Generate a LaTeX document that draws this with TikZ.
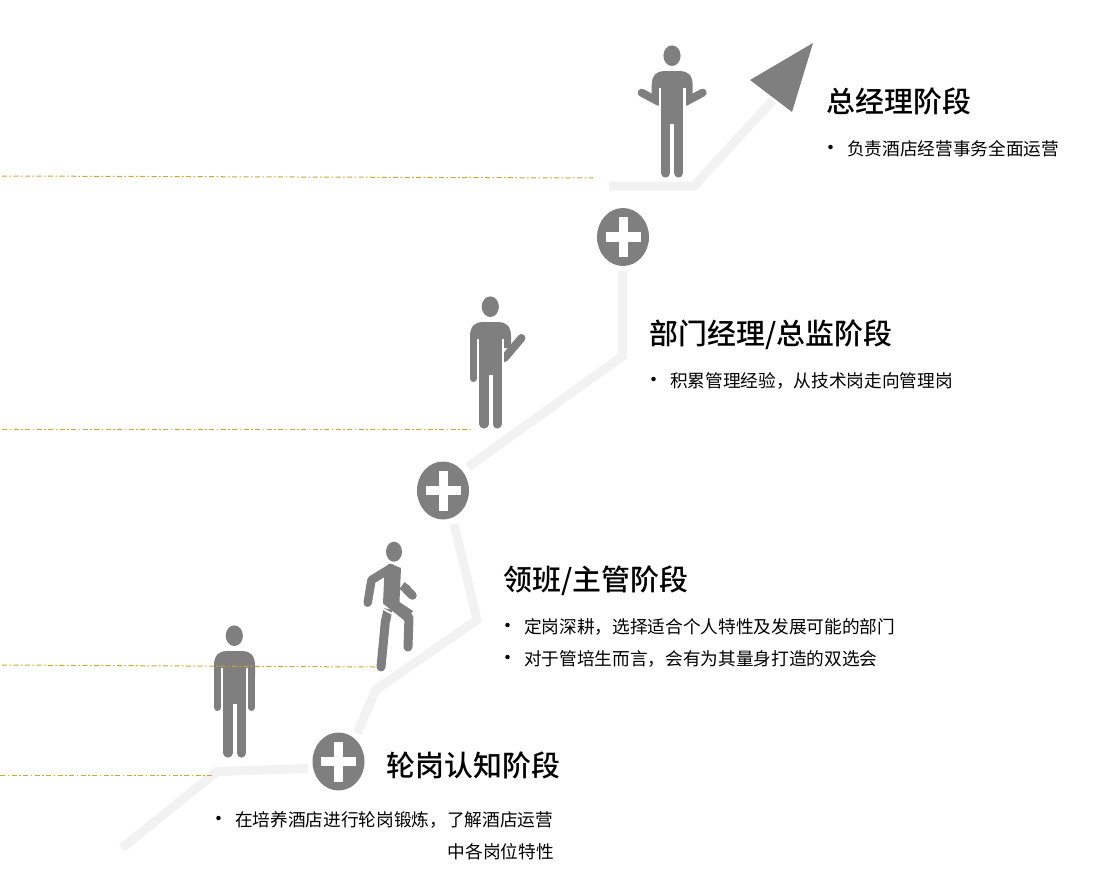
\documentclass[tikz,border=0pt]{standalone}
\usepackage{fontspec}
\setmainfont{Noto Sans CJK SC}
\newfontfamily\stagefont{Noto Sans CJK SC Medium}
\usetikzlibrary{shapes.geometric}
\definecolor{mangray}{HTML}{7F7F7F}
\definecolor{stairgray}{HTML}{F2F2F2}
\definecolor{dashgold}{HTML}{CFA62E}
\newcommand{\titlefont}{\fontsize{28.9}{34}\selectfont\stagefont}
\newcommand{\bodyfont}{\fontsize{17.67}{22}\selectfont}
\newcommand{\bul}{\makebox[27pt][l]{\fontsize{21}{22}\selectfont\textbullet}}
\tikzset{
  stair/.style={draw=stairgray,line width=9pt},
  guide/.style={draw=dashgold,line width=1pt,dash pattern=on 5pt off 2.5pt on 1.5pt off 2.5pt},
  plusnode/.style={shape=ellipse,fill=mangray,inner sep=0pt,minimum width=52pt,minimum height=58pt},
  stage/.style={anchor=west,inner sep=0pt,font=\titlefont},
  item/.style={anchor=west,inner sep=0pt,font=\bodyfont},
  limb/.style={draw=mangray,line width=#1,line cap=round,line join=round},
  limb/.default=8pt,
  stump/.style={draw=mangray,line width=#1},
  stump/.default=8pt,
  pics/mantop/.style={code={
    \fill[mangray] (-0.2,-15.3) ellipse [x radius=8.6pt,y radius=10.3pt];
    \fill[mangray] (-20.5,26) -- (-20.5,14) .. controls (-20.5,4) and (-15,0) .. (-8,0)
      -- (8,0) .. controls (15,0) and (20.5,4) .. (20.5,14) -- (20.5,26) -- cycle;
  }},
  pics/manlegs/.style={code={
    \fill[white] (-13.5,17) rectangle (13.5,42);
    \fill[mangray] (-11.2,10) rectangle (11.2,53);
    \draw[limb=9.2pt] (-6.6,50) -- (-6.6,102);
    \draw[limb=9.2pt] (6.6,50) -- (6.6,102);
  }}
}
\begin{document}
\begin{tikzpicture}[x=1pt,y=-1pt]
  \useasboundingbox (0,0) rectangle (1100,868);

  \coordinate (sa) at (122,848);
  \coordinate (sb) at (217,771.5);
  \coordinate (sc) at (308,768.5);
  \coordinate (sd) at (357,733);
  \coordinate (se) at (376,689.5);
  \coordinate (sf) at (477,620);
  \coordinate (sg) at (454,524);
  \coordinate (sh) at (468,467);
  \coordinate (si) at (622.5,356);
  \coordinate (sj) at (622.5,271);
  \coordinate (sk) at (609,186);
  \coordinate (sl) at (694,186);
  \coordinate (sm) at (773,100);

  \draw[stair] (sa) -- (sb) -- (sc);
  \draw[stair] (sd) -- (se) -- (sf) -- (sg);
  \draw[stair] (sh) -- (si) -- (sj);
  \draw[stair] (sk) -- (sl) -- (sm);

  \fill[mangray] (750,80) -- (813,43) -- (792,112) -- cycle;

  \node[plusnode] (plusa) at (338.5,761.5) {};
  \node[plusnode] (plusb) at (443,490.5) {};
  \node[plusnode] (plusc) at (623,237) {};
  \foreach \n in {plusa,plusb,plusc}{
    \draw[white,line width=9.5pt] ([xshift=-17.5pt]\n.center) -- ([xshift=17.5pt]\n.center);
    \draw[white,line width=9pt] ([yshift=-20pt]\n.center) -- ([yshift=20pt]\n.center);
  }

  % standing
  \begin{scope}[shift={(234.5,651)}]
    \draw[limb=7pt] (-17,15) -- (-17,56.5);
    \draw[limb=7pt] (17,15) -- (17,56.5);
    \pic {mantop};
    \pic {manlegs};
  \end{scope}

  % climbing
  \draw[limb=8.5pt] (367.7,602.7) -- (371.5,580) -- (391,568);
  \fill[mangray] (389.3,563.5) -- (401,568) -- (399.5,602) -- (413,611) -- (405,621) -- (383,603.5) -- (384.5,570) -- cycle;
  \fill[mangray] (394,551.7) ellipse [x radius=8pt,y radius=10pt];
  \draw[limb=9pt] (392,604) -- (409,617.5) -- (408,647);
  \draw[stump=9pt] (388,609) -- (385.5,622);
  \draw[limb=9pt] (385.5,620) -- (381,667);
  \draw[white,line width=1.6pt] (382,608.5) -- (392.5,614);
  \draw[stump=8.5pt] (402,585.5) -- (408,590);
  \draw[limb=8.5pt] (406,589) -- (412.5,595.5);

  % waving
  \begin{scope}[shift={(490.5,322)}]
    \draw[limb=7pt] (-17,15) -- (-17,56.5);
    \draw[limb=8pt] (31,16) -- (14,36);
    \pic {mantop};
    \pic {manlegs};
  \end{scope}

  % shrugging
  \begin{scope}[shift={(672.2,71)}]
    \draw[limb=8pt] (-30.5,21.7) -- (-13,31);
    \draw[limb=8pt] (30.5,21.7) -- (13,31);
    \pic {mantop};
    \pic {manlegs};
  \end{scope}

  \draw[guide] (2,176) -- (596,178);
  \draw[guide] (2,429.5) -- (471,429.5);
  \draw[guide] (2,665) -- (375,667);
  \draw[guide] (0,775) -- (214,775);

  \node[stage] (tgm) at (826.5,101) {总经理阶段};
  \node[item] (tgma) at (820,149) {\bul 负责酒店经营事务全面运营};

  \node[stage] (tdept) at (649.5,335) {部门经理/总监阶段};
  \node[item] (tdepta) at (643,381) {\bul 积累管理经验，从技术岗走向管理岗};

  \node[stage] (tlead) at (503.5,581) {领班/主管阶段};
  \node[item] (tleada) at (497,627) {\bul 定岗深耕，选择适合个人特性及发展可能的部门};
  \node[item] (tleadb) at (497,659) {\bul 对于管培生而言，会有为其量身打造的双选会};

  \node[stage] (trot) at (386.5,765) {轮岗认知阶段};
  \node[item] (trota) at (208,820) {\bul 在培养酒店进行轮岗锻炼，了解酒店运营};
  \node[item,anchor=east] (trotb) at (554,852) {中各岗位特性};
\end{tikzpicture}
\end{document}
